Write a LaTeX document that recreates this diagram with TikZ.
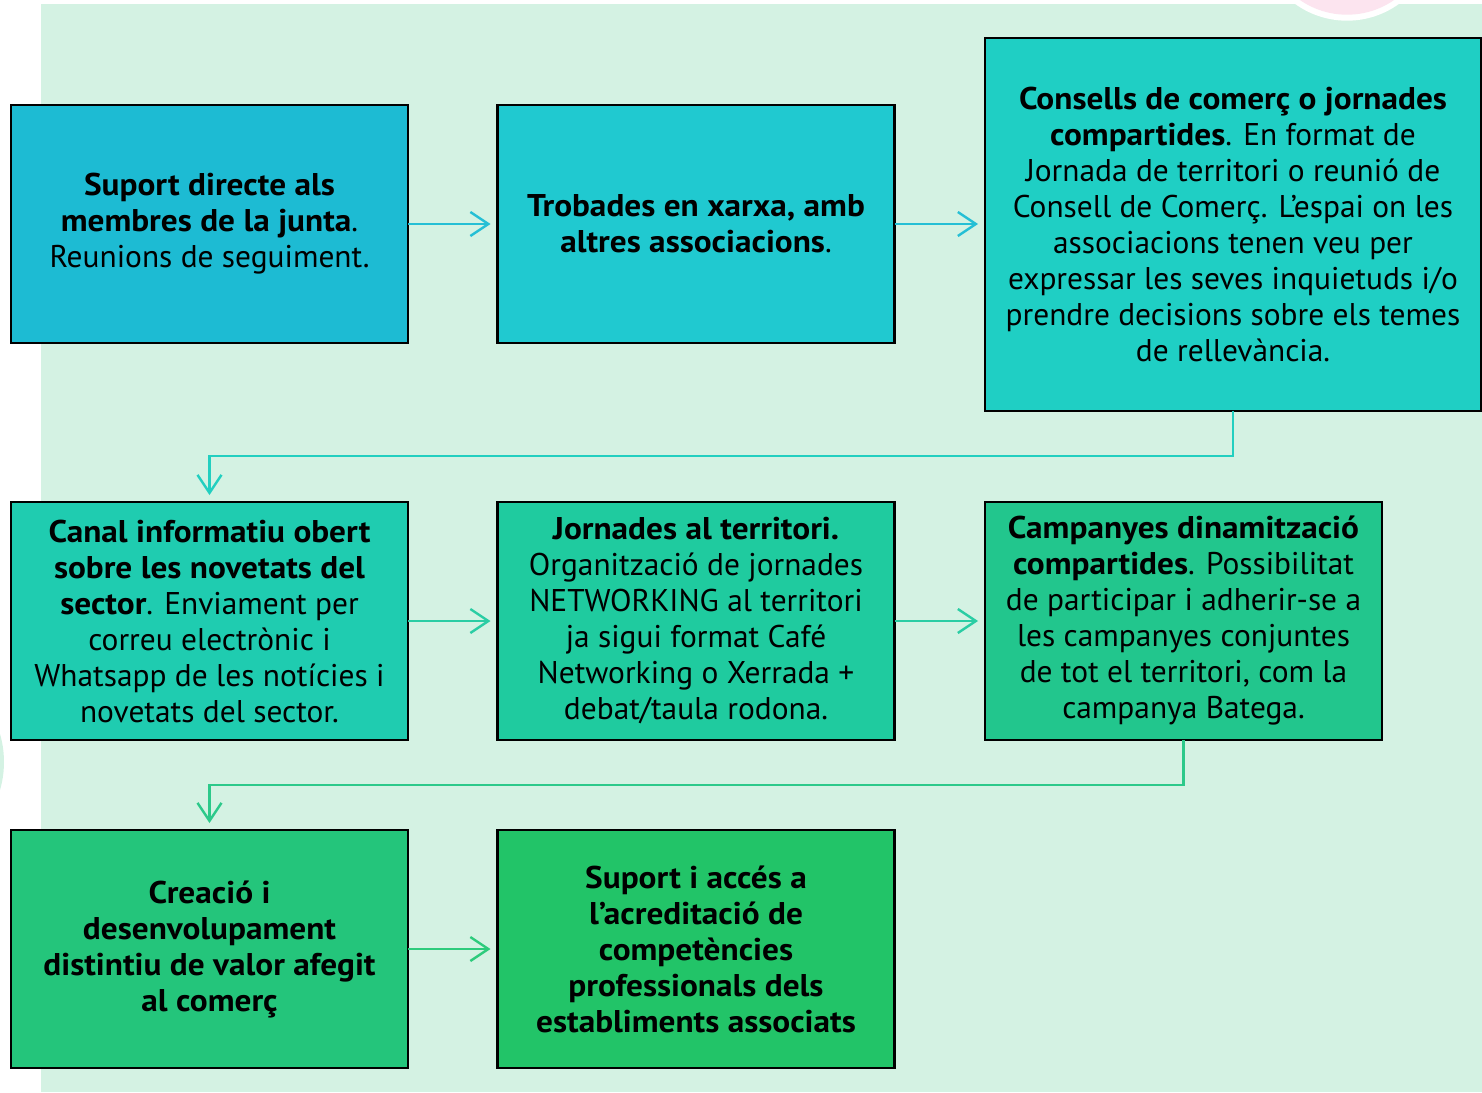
\documentclass[tikz,border=0pt]{standalone}
\usepackage{fontspec}
\setmainfont{PT Sans}[BoldFeatures={FakeStretch=1.06}]
\usetikzlibrary{arrows.meta}
\definecolor{bg}{HTML}{D4F2E3}
\definecolor{pinkc}{HTML}{FCE4EF}
\definecolor{cA}{HTML}{1DBBD3}
\definecolor{cB}{HTML}{20C9D0}
\definecolor{cC}{HTML}{1FCFC4}
\definecolor{cD}{HTML}{1FCCB0}
\definecolor{cE}{HTML}{1FCB9F}
\definecolor{cF}{HTML}{22C68D}
\definecolor{cG}{HTML}{24C57B}
\definecolor{cH}{HTML}{22C468}
\definecolor{aA}{HTML}{25BFD5}
\definecolor{aC}{HTML}{22CFC0}
\definecolor{aE}{HTML}{2ACDA4}
\definecolor{aF}{HTML}{2CC98A}
\definecolor{aG}{HTML}{2DCB7C}
\tikzset{
  box/.style={draw=black, line width=1.3pt, outer sep=0pt, inner sep=0pt, align=center,
    minimum width=198.5pt, minimum height=119pt, text=black,
    font=\fontsize{15.7pt}{18pt}\selectfont},
  arr/.style={line width=1.2pt, -{Straight Barb[length=9pt,width=12pt,line width=1.2pt]}, shorten >=3.5pt},
}
\begin{document}
\begin{tikzpicture}[x=0.5pt,y=-0.5pt]
\useasboundingbox (0,0) rectangle (1482,1092);
\clip (0,0) rectangle (1482,1092);
\fill[bg] (41,4) rectangle (1482,1092);
\fill[white] (1347,-68) circle (44.35pt);
\fill[pinkc] (1347,-68) circle (41.35pt);
\fill[bg] (-96,762) circle (50pt);

\node[box, fill=cA] (b1) at (209.5,224) {\textbf{Suport directe als}\\\textbf{membres de la junta}.\\Reunions de seguiment.};
\node[box, fill=cB] (b2) at (696,224) {\textbf{Trobades en xarxa, amb}\\\textbf{altres associacions}.};
\node[box, fill=cC, minimum width=248pt, minimum height=186.5pt] (b3) at (1233,224.5) {\textbf{Consells de comerç o jornades}\\\textbf{compartides}. En format de\\Jornada de territori o reunió de\\Consell de Comerç. L’espai on les\\associacions tenen veu per\\expressar les seves inquietuds i/o\\prendre decisions sobre els temes\\de rellevància.};

\node[box, fill=cD] (b4) at (209.5,621) {\textbf{Canal informatiu obert}\\\textbf{sobre les novetats del}\\\textbf{sector}. Enviament per\\correu electrònic i\\Whatsapp de les notícies i\\novetats del sector.};
\node[box, fill=cE] (b5) at (696,621) {\textbf{Jornades al territori.}\\Organització de jornades\\NETWORKING al territori\\ja sigui format Café\\Networking o Xerrada +\\debat/taula rodona.};
\node[box, fill=cF] (b6) at (1183.5,621) {\textbf{Campanyes dinamització}\\\textbf{compartides}. Possibilitat\\de participar i adherir-se a\\les campanyes conjuntes\\de tot el territori, com la\\campanya Batega.};

\node[box, fill=cG] (b7) at (209.5,949) {\textbf{Creació i}\\\textbf{desenvolupament}\\\textbf{distintiu de valor afegit}\\\textbf{al comerç}};
\node[box, fill=cH] (b8) at (696,949) {\textbf{Suport i accés a}\\\textbf{l’acreditació de}\\\textbf{competències}\\\textbf{professionals dels}\\\textbf{establiments associats}};

\draw[arr, aA] (b1.east) -- (b2.west);
\draw[arr, aA] (b2.east) -- (b3.west |- b2.east);
\draw[arr, aC] (b3.south) -- ++(0,45) -| (b4.north);
\draw[arr, aE] (b4.east) -- (b5.west);
\draw[arr, aE] (b5.east) -- (b6.west);
\draw[arr, aF] (b6.south) -- ++(0,45) -| (b7.north);
\draw[arr, aG] (b7.east) -- (b8.west);
\end{tikzpicture}
\end{document}
